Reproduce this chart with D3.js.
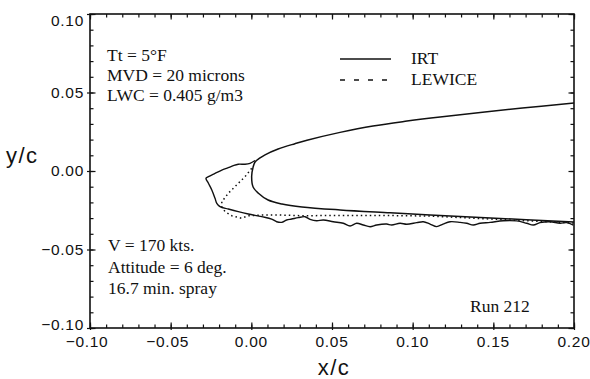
<!DOCTYPE html>
<html>
<head>
<meta charset="utf-8">
<script src="https://cdn.jsdelivr.net/npm/d3@7"></script>
<style>
  html, body { margin: 0; padding: 0; background: #fff; }
  svg { display: block; }
  .tick-label { font-family: "Liberation Sans", Arial, sans-serif; font-size: 15.5px; letter-spacing: 0.7px; fill: #111; }
  .axis-title { font-family: "Liberation Sans", Arial, sans-serif; font-size: 22px; letter-spacing: 1.5px; fill: #111; }
  .note { font-family: "Liberation Serif", "Times New Roman", serif; font-size: 17.5px; fill: #111; }
</style>
</head>
<body>
<svg id="chart" width="590" height="379"></svg>
<script>
// Axis ticks
const xTicks = [-0.10, -0.05, 0.00, 0.05, 0.10, 0.15, 0.20];
const yTicks = [-0.10, -0.05, 0.00, 0.05, 0.10];

// Clean airfoil contour (x/c, y/c), upper trailing side -> leading edge -> lower side
const airfoil = [
  [0.200, 0.0433], [0.168, 0.0401], [0.117, 0.0344], [0.0965, 0.0318],
  [0.0754, 0.0287], [0.055, 0.0246], [0.0345, 0.0196], [0.027, 0.0174],
  [0.0166, 0.0140], [0.0085, 0.0103], [0.0054, 0.0083], [0.0023, 0.0057],
  [0.0011, 0.0025], [0.0002, -0.0034], [0.0011, -0.0102], [0.0042, -0.0140],
  [0.0104, -0.0185], [0.0190, -0.0210], [0.0314, -0.0229], [0.055, -0.0248],
  [0.086, -0.0266], [0.1108, -0.0280], [0.1482, -0.0299], [0.200, -0.0325]
];

// Measured ice shape (IRT), from the upper horn around to the lower surface
const iceIRT = [
  [0.0023, 0.0067], [-0.0008, 0.0049], [-0.0039, 0.0043], [-0.0081, 0.0043],
  [-0.0112, 0.0034], [-0.0143, 0.0021], [-0.0183, 0.0006], [-0.0225, -0.0015],
  [-0.0266, -0.0036], [-0.0281, -0.0046], [-0.0266, -0.0078], [-0.0245, -0.0121],
  [-0.0225, -0.0174], [-0.0214, -0.0206], [-0.0194, -0.0227], [-0.0143, -0.0242],
  [-0.0081, -0.0259], [-0.0019, -0.0274], [0.0064, -0.0291], [0.0126, -0.0306],
  [0.0157, -0.0323], [0.0188, -0.0327], [0.0219, -0.0312], [0.0250, -0.0306],
  [0.0291, -0.0297], [0.0333, -0.0291], [0.0364, -0.0308], [0.0405, -0.0317],
  [0.0446, -0.0312], [0.0508, -0.0323], [0.0570, -0.0333], [0.0612, -0.0350],
  [0.0653, -0.0333], [0.0694, -0.0344], [0.0736, -0.0355], [0.0777, -0.0344],
  [0.0839, -0.0338], [0.0870, -0.0344], [0.0922, -0.0333], [0.0963, -0.0339],
  [0.1025, -0.0329], [0.1066, -0.0323], [0.1108, -0.0338], [0.1149, -0.0354],
  [0.1188, -0.0338], [0.1232, -0.0323], [0.1294, -0.0327], [0.1335, -0.0333],
  [0.1376, -0.0344], [0.1418, -0.0333], [0.1480, -0.0327], [0.1562, -0.0317],
  [0.1645, -0.0318], [0.1707, -0.0333], [0.1748, -0.0344], [0.1789, -0.0329],
  [0.1851, -0.0323], [0.1913, -0.0333], [0.1955, -0.0329], [0.1996, -0.0344]
];

// Predicted ice shape (LEWICE)
const iceLEWICE = [
  [0.0002, 0.0017], [-0.0039, -0.0036], [-0.0091, -0.0089], [-0.0143, -0.0142],
  [-0.0183, -0.0196], [-0.0183, -0.0229], [-0.0163, -0.0259], [-0.0121, -0.0285],
  [-0.0060, -0.0301], [-0.0019, -0.0285], [0.0064, -0.0280], [0.0167, -0.0280],
  [0.0312, -0.0285], [0.0550, -0.0283], [0.0798, -0.0283], [0.1108, -0.0287],
  [0.1480, -0.0306], [0.2000, -0.0331]
];

const conditionsTop = ["Tt = 5°F", "MVD = 20 microns", "LWC = 0.405 g/m3"];
const conditionsBottom = ["V = 170 kts.", "Attitude = 6 deg.", "16.7 min. spray"];
const runLabel = "Run 212";
const legendItems = [{ name: "IRT", dash: null }, { name: "LEWICE", dash: "5,9" }];

const svg = d3.select("#chart");
const plotLeft = 90, plotRight = 574, plotTop = 14, plotBottom = 328;

const x = d3.scaleLinear().domain([-0.10, 0.20]).range([plotLeft, plotRight]);
const y = d3.scaleLinear().domain([-0.10, 0.10]).range([plotBottom, plotTop]);

svg.append("defs").append("clipPath").attr("id", "plotClip")
  .append("rect").attr("x", plotLeft).attr("y", plotTop)
  .attr("width", plotRight - plotLeft).attr("height", plotBottom - plotTop);

const fmt = d3.format(".2f");
const label = v => fmt(v).replace("-", "\u2212");

const minorX = d3.range(-0.10, 0.2001, 0.01);
const minorY = d3.range(-0.10, 0.1001, 0.01);

// Inward-pointing tick marks on all four sides
function tickAxis(axisFn, scale, values, size, tx, ty) {
  const g = svg.append("g").attr("transform", `translate(${tx},${ty})`)
    .call(axisFn(scale).tickValues(values).tickSize(size).tickFormat(""));
  g.select(".domain").remove();
  g.selectAll(".tick line").attr("stroke", "#111").attr("stroke-width", 1.2);
  return g;
}
// minor
tickAxis(d3.axisBottom, x, minorX, -3.5, 0, plotBottom);
tickAxis(d3.axisTop, x, minorX, -3.5, 0, plotTop);
tickAxis(d3.axisLeft, y, minorY, -3.5, plotLeft, 0);
tickAxis(d3.axisRight, y, minorY, -3.5, plotRight, 0);
// major (inside)
tickAxis(d3.axisBottom, x, xTicks, -5.5, 0, plotBottom);
tickAxis(d3.axisTop, x, xTicks, -5.5, 0, plotTop);
tickAxis(d3.axisLeft, y, yTicks, -5.5, plotLeft, 0);
tickAxis(d3.axisRight, y, yTicks, -5.5, plotRight, 0);
// major (outside stubs)
tickAxis(d3.axisLeft, y, yTicks, 3, plotLeft, 0);
tickAxis(d3.axisBottom, x, xTicks, 2, 0, plotBottom);

// Frame
svg.append("rect").attr("x", plotLeft).attr("y", plotTop)
  .attr("width", plotRight - plotLeft).attr("height", plotBottom - plotTop)
  .attr("fill", "none").attr("stroke", "#111").attr("stroke-width", 1.6);

// Tick labels
svg.append("g").selectAll("text").data(yTicks).join("text")
  .attr("class", "tick-label")
  .attr("x", plotLeft - 6)
  .attr("y", d => y(d) + (d === 0.10 ? 7 : d === -0.10 ? -3 : 0))
  .attr("dy", "0.35em")
  .attr("text-anchor", "end")
  .text(label);

svg.append("g").selectAll("text").data(xTicks).join("text")
  .attr("class", "tick-label")
  .attr("x", d => x(d) - (d < 0 ? 3 : 0))
  .attr("y", 347)
  .attr("text-anchor", "middle")
  .text(label);

// Axis titles
svg.append("text").attr("class", "axis-title").attr("x", 6).attr("y", 163).text("y/c");
svg.append("text").attr("class", "axis-title").attr("x", 334).attr("y", 375)
  .attr("text-anchor", "middle").text("x/c");

// Curves
const line = d3.line().x(d => x(d[0])).y(d => y(d[1]));
const smooth = d3.line().x(d => x(d[0])).y(d => y(d[1])).curve(d3.curveCatmullRom.alpha(0.5));
const plot = svg.append("g").attr("clip-path", "url(#plotClip)");

plot.append("path").datum(airfoil).attr("d", smooth)
  .attr("fill", "none").attr("stroke", "#111").attr("stroke-width", 1.5);
plot.append("path").datum(iceIRT).attr("d", smooth)
  .attr("fill", "none").attr("stroke", "#111").attr("stroke-width", 1.4);
plot.append("path").datum(iceLEWICE).attr("d", line)
  .attr("fill", "none").attr("stroke", "#111").attr("stroke-width", 1.5)
  .attr("stroke-dasharray", "1.5,3");

// Legend
const legend = svg.append("g");
legendItems.forEach((it, i) => {
  const ly = 59 + i * 21;
  legend.append("line").attr("x1", 340).attr("x2", 391).attr("y1", ly).attr("y2", ly)
    .attr("stroke", "#111").attr("stroke-width", 1.6)
    .attr("stroke-dasharray", it.dash);
  legend.append("text").attr("class", "note").attr("x", 411).attr("y", ly + 4.5).text(it.name);
});

// Test condition notes
svg.append("g").selectAll("text").data(conditionsTop).join("text")
  .attr("class", "note").attr("x", 107).attr("y", (d, i) => 61 + i * 20).text(d => d);
svg.append("g").selectAll("text").data(conditionsBottom).join("text")
  .attr("class", "note").attr("x", 108).attr("y", (d, i) => 251 + i * 21.5).text(d => d);
svg.append("text").attr("class", "note").attr("x", 470).attr("y", 312).text(runLabel);
</script>
</body>
</html>
